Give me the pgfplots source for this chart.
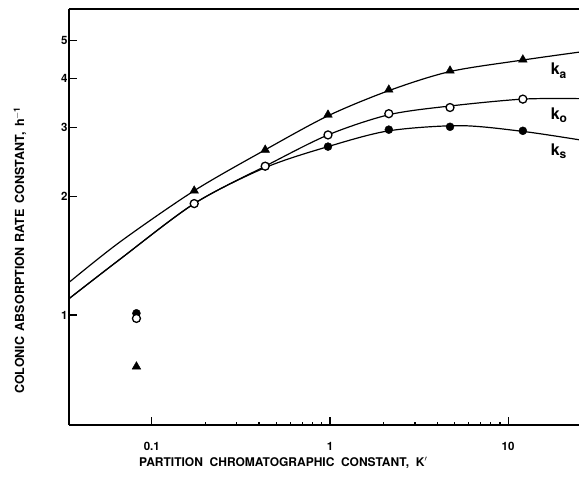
\documentclass[border=0pt]{standalone}
\usepackage{fontspec}
\setmainfont{TeX Gyre Heros}
\usepackage{pgfplots}
\pgfplotsset{compat=1.18}

% fitted curves
\pgfplotstableread{
x y
0.0343 1.21
0.0663 1.534
0.173 2.07
0.433 2.63
0.975 3.21
2.14 3.72
4.72 4.16
12.1 4.45
25 4.66
}\curveka
\pgfplotstableread{
x y
0.0343 1.10
0.0663 1.386
0.173 1.92
0.433 2.39
0.975 2.87
2.14 3.23
4.72 3.40
12.1 3.54
25 3.55
}\curveko
\pgfplotstableread{
x y
0.0343 1.10
0.0663 1.386
0.173 1.92
0.433 2.37
0.975 2.68
2.14 2.94
5.4 3.03
12.1 2.93
25 2.79
}\curveks

\begin{document}
\begin{tikzpicture}
\useasboundingbox (-69pt,-57pt) rectangle (510pt,425pt);
\begin{axis}[
scale only axis,
width=510pt, height=416pt,
xmode=log, ymode=log,
xmin=0.0343, xmax=25,
ymin=0.525, ymax=6.0,
axis x line=box, axis y line=left,
axis line style={-, line width=1.4pt},
xtick pos=bottom,
xtick={0.1,1,10}, xticklabels={0.1,1,10},
ytick={1,2,3,4,5}, yticklabels={1,2,3,4,5},
minor xtick={}, minor ytick={},
major tick length=8pt,
tick style={line width=1.2pt, black},
tick align=inside,
ticklabel style={font=\bfseries\fontsize{11.5}{11.5}\selectfont},
xticklabel style={yshift=-14pt},
yticklabel style={xshift=2pt},
xlabel={PARTITION\ \ CHROMATOGRAPHIC\ \ CONSTANT,\ \ K$'$},
ylabel={COLONIC\hspace{0.45em}ABSORPTION\hspace{0.45em}RATE\hspace{0.45em}CONSTANT,\hspace{0.45em}h$^{\mathbf{-1}}$},
every axis x label/.style={at={(axis description cs:0.42,-0.091)}, anchor=center,
  font=\bfseries\fontsize{12}{12}\selectfont},
every axis y label/.style={at={(axis description cs:-0.096,0.42)}, anchor=center, rotate=90,
  font=\bfseries\fontsize{12.5}{12.5}\selectfont},
clip=true,
]
\addplot[black, line width=1.2pt, smooth, no marks] table {\curveka};
\addplot[black, line width=1.2pt, smooth, no marks] table {\curveko};
\addplot[black, line width=1.2pt, smooth, no marks] table {\curveks};

% k_s, filled circles
\addplot[only marks, mark=*, mark size=4pt, mark options={fill=black, draw=black}] coordinates {
(0.082,1.01) (0.173,1.92) (0.433,2.39) (0.975,2.68) (2.14,2.96) (4.72,3.01) (12.1,2.94)
};
% k_o, open circles
\addplot[only marks, mark=*, mark size=4pt, mark options={fill=white, draw=black, line width=1.3pt}] coordinates {
(0.082,0.98) (0.173,1.92) (0.433,2.39) (0.975,2.87) (2.14,3.25) (4.72,3.37) (12.1,3.54)
};
% k_a, triangles
\addplot[only marks, mark=triangle*, mark size=5pt, mark options={fill=black, draw=black}] coordinates {
(0.082,0.739) (0.173,2.07) (0.433,2.63) (0.975,3.23) (2.14,3.74) (4.72,4.18) (12.1,4.46)
};

\node[anchor=west, font=\bfseries\fontsize{16}{16}\selectfont] at (axis cs:16.6,4.18) {k\raisebox{-0.35ex}{\fontsize{12}{12}\selectfont a}};
\node[anchor=west, font=\bfseries\fontsize{16}{16}\selectfont] at (axis cs:16.6,3.23) {k\raisebox{-0.35ex}{\fontsize{12}{12}\selectfont o}};
\node[anchor=west, font=\bfseries\fontsize{16}{16}\selectfont] at (axis cs:16.6,2.61) {k\raisebox{-0.35ex}{\fontsize{12}{12}\selectfont s}};
\end{axis}
\end{tikzpicture}
\end{document}
